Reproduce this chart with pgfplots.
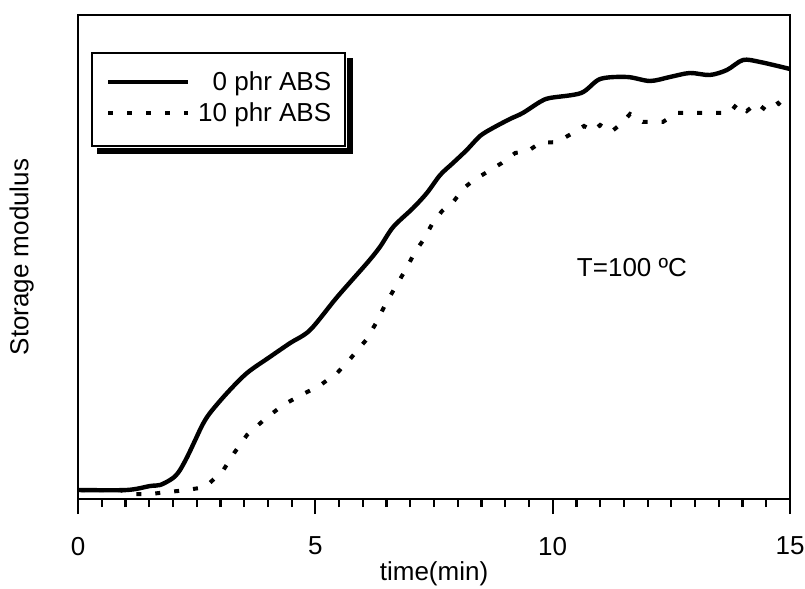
\documentclass[border=0pt]{standalone}
\usepackage{pgfplots}
\pgfplotsset{compat=1.18}
\usepackage{fontspec}
\setmainfont{Liberation Sans}
\usetikzlibrary{calc}

\begin{document}
\fontsize{13pt}{15pt}\selectfont
\begin{tikzpicture}
\begin{axis}[
    name=ax,
    scale only axis,
    width=356pt, height=242pt,
    xmin=0, xmax=15,
    ymin=0, ymax=484,
    xtick={0,5,10,15},
    minor x tick num=9,
    ytick=\empty,
    xtick pos=bottom,
    tick align=outside,
    major tick length=7.5pt,
    minor tick length=4pt,
    every tick/.style={black, line width=1.1pt},
    axis line style={line width=1.2pt},
    /pgf/number format/assume math mode=true,
    xticklabel style={yshift=-7pt},
    xlabel={time(min)},
    ylabel={Storage modulus},
    xlabel style={at={(axis description cs:0.5,-0.155)}, anchor=center},
    ylabel style={at={(axis description cs:-0.079,0.5)}, anchor=center},
    legend cell align=right,
    legend style={
        name=leg,
        at={(axis description cs:0.018,0.924)}, anchor=north west,
        line width=1pt, draw=black, fill=white,
        inner xsep=7pt, inner ysep=9.5pt,
        row sep=3.5pt, column sep=4pt,
        nodes={inner sep=0pt, text height=9.5pt, text depth=2.5pt},
    },
    legend image code/.code={\draw[#1] (0pt,1pt) -- (40pt,1pt);},
]

% 0 phr ABS
\addplot[black, line width=2.2pt, smooth] coordinates {
    (0.00,9) (1.03,9) (1.52,13) (1.73,14) (1.94,19) (2.05,23) (2.15,29)
    (2.30,42) (2.47,59) (2.62,74) (2.78,86) (3.14,106) (3.56,126) (4.04,142)
    (4.47,156) (4.89,169) (5.46,202) (6.09,236) (6.36,252) (6.64,272)
    (7.06,291) (7.35,306) (7.63,324) (7.90,336) (8.19,349) (8.47,363)
    (8.74,371) (9.10,380) (9.37,386) (9.73,397) (9.94,401) (10.60,406)
    (11.00,420) (11.57,422) (12.05,418) (12.47,422) (12.89,426)
    (13.31,424) (13.67,429) (14.01,439) (14.37,437) (15.00,430)
};
\addlegendentry{0 phr ABS}

% 10 phr ABS
\addplot[black, line width=2pt, dash pattern=on 2.5pt off 7pt] coordinates {
    (0.04,9) (0.46,9) (0.88,9) (1.16,5) (1.52,5) (1.90,7) (2.30,9)
    (2.68,12) (3.05,28) (3.29,46) (3.56,64) (3.94,80) (4.32,94)
    (4.70,104) (5.08,113) (5.46,126) (5.75,141) (6.07,159) (6.28,176)
    (6.49,196) (6.70,213) (6.91,230) (7.10,247) (7.29,260) (7.46,275)
    (7.67,288) (7.92,298) (8.13,311) (8.34,319) (8.62,327) (8.93,336)
    (9.21,346) (9.48,348) (9.73,356) (10.09,357) (10.39,365) (10.66,373)
    (10.85,368) (11.00,374) (11.23,367) (11.46,376) (11.63,385)
    (11.90,377) (12.32,377) (12.62,386) (12.96,386) (13.38,386)
    (13.73,386) (13.90,396) (14.09,388) (14.30,396) (14.51,388)
    (14.75,396) (14.94,387)
};
\addlegendentry{10 phr ABS}

\node[anchor=center] at (axis cs:11.67,231) {T=100 ºC};
\end{axis}
% legend shadow
\fill[black] ($(leg.north east)+(0.5pt,-3pt)$) rectangle ($(leg.south east)+(3.5pt,-3.5pt)$);
\fill[black] ($(leg.south west)+(3pt,-0.5pt)$) rectangle ($(leg.south east)+(3.5pt,-3.5pt)$);
\pgfresetboundingbox
\path ($(ax.south west)+(-39pt,-44.5pt)$) rectangle ($(ax.north east)+(7.5pt,7.5pt)$);
\end{tikzpicture}
\end{document}
